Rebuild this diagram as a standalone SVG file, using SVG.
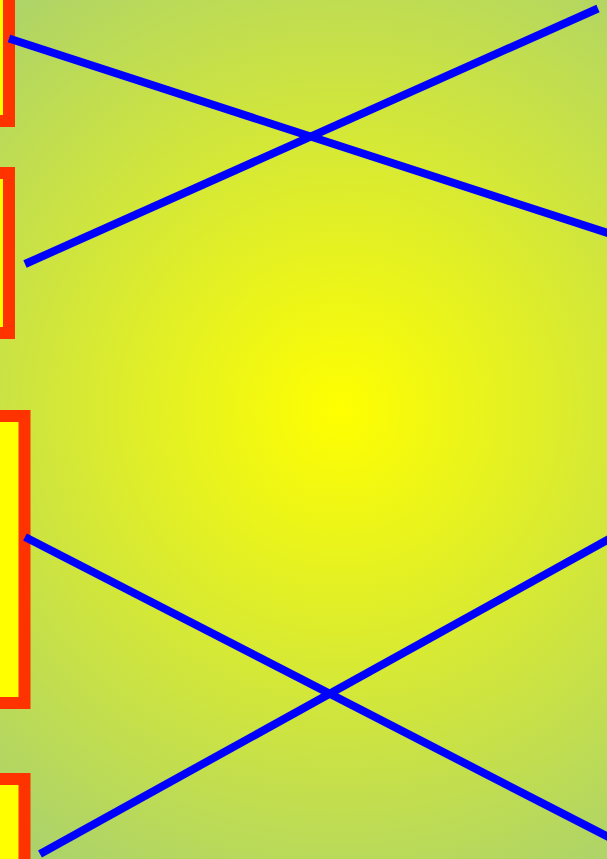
<svg xmlns="http://www.w3.org/2000/svg" width="607" height="859" viewBox="0 0 607 859">
  <defs>
    <radialGradient id="bg" gradientUnits="userSpaceOnUse" cx="340" cy="410" r="560">
      <stop offset="0" stop-color="#ffff00"/>
      <stop offset="1" stop-color="#a8d070"/>
    </radialGradient>
  </defs>
  <style>
    .box { fill: #ffff00; stroke: #ff3300; stroke-width: 12; }
    .conn { stroke: #0000ff; stroke-width: 8; fill: none; stroke-linecap: butt; }
  </style>
  <rect x="0" y="0" width="607" height="859" fill="url(#bg)"/>
  <g id="node1"><rect class="box" x="-20" y="-20" width="29" height="141"/></g>
  <g id="node2"><rect class="box" x="-20" y="173" width="29" height="160"/></g>
  <g id="node3"><rect class="box" x="-20" y="416" width="44.5" height="287"/></g>
  <g id="node4"><rect class="box" x="-20" y="779" width="44.5" height="120"/></g>
  <g id="connectors">
    <line class="conn" x1="9" y1="38.5" x2="620" y2="237"/>
    <line class="conn" x1="25" y1="264" x2="598" y2="8.5"/>
    <line class="conn" x1="25" y1="537" x2="620" y2="843"/>
    <line class="conn" x1="40" y1="854" x2="620" y2="533"/>
  </g>
</svg>
